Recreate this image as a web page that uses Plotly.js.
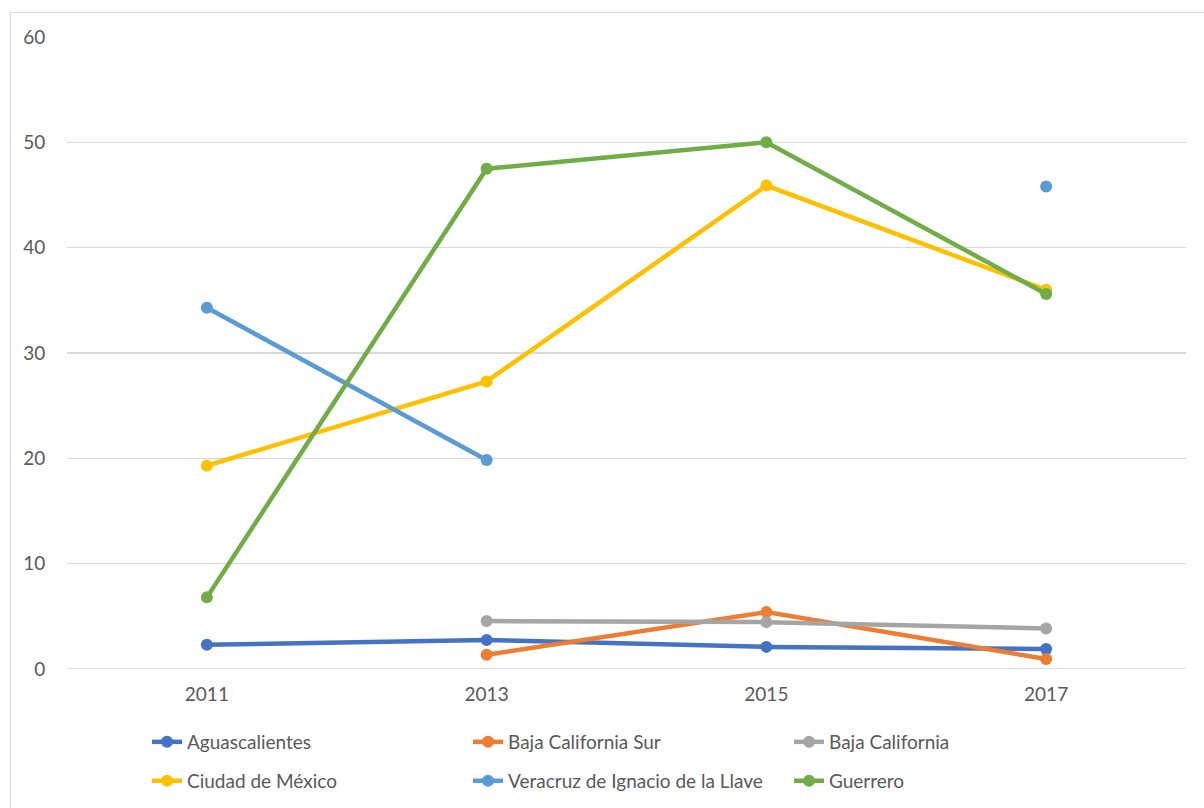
<!DOCTYPE html>
<html>
<head>
<meta charset="utf-8">
<script src="https://cdn.plot.ly/plotly-3.0.1.min.js"></script>
<style>
  html, body { margin: 0; padding: 0; background: #fff; }
  #wrap { position: relative; width: 1204px; height: 808px; overflow: hidden; }
  #chart { width: 1204px; height: 808px; }
  #frame { position: absolute; left: 10px; top: 12px; width: 1300px; height: 900px;
           border: 1.5px solid #d9d9d9; pointer-events: none; }
</style>
</head>
<body>
<div id="wrap">
  <div id="chart"></div>
  <div id="frame"></div>
</div>
<script>
const years = ['2011', '2013', '2015', '2017'];
const aguascalientes = [2.3, 2.75, 2.1, 1.9];
const bajaCaliforniaSur = [null, 1.35, 5.4, 0.95];
const bajaCalifornia = [null, 4.55, 4.45, 3.85];
const ciudadDeMexico = [19.3, 27.3, 45.9, 36.0];
const veracruz = [34.3, 19.85, null, 45.8];
const guerrero = [6.8, 47.5, 50.0, 35.6];
const yTicks = [0, 10, 20, 30, 40, 50, 60];

const seriesNames = ['Aguascalientes', 'Baja California Sur', 'Baja California',
                     'Ciudad de México', 'Veracruz de Ignacio de la Llave', 'Guerrero'];
const seriesValues = [aguascalientes, bajaCaliforniaSur, bajaCalifornia,
                      ciudadDeMexico, veracruz, guerrero];
const colors = ['#4472C4', '#ED7D31', '#A5A5A5', '#FFC000', '#5B9BD5', '#70AD47'];

const FONT = 'Lato, "Open Sans", "Liberation Sans", sans-serif';
const TXT = '#595959';
const FS = 19;

const traces = seriesValues.map((vals, i) => ({
  type: 'scatter',
  mode: 'lines+markers',
  name: seriesNames[i],
  x: years,
  y: vals,
  connectgaps: false,
  line: { color: colors[i], width: 4.5 },
  marker: { color: colors[i], size: 12 },
  legend: i < 3 ? 'legend' : 'legend2',
  cliponaxis: false
}));

const legendCommon = {
  orientation: 'h',
  xanchor: 'left',
  yanchor: 'middle',
  x: 0.0715,
  entrywidth: 276,
  entrywidthmode: 'pixels',
  font: { family: FONT, size: FS, color: TXT },
  bgcolor: 'rgba(0,0,0,0)',
  itemclick: false
};

const layout = {
  width: 1204,
  height: 808,
  margin: { l: 67, r: 18, t: 37, b: 139, autoexpand: false },
  paper_bgcolor: '#ffffff',
  plot_bgcolor: '#ffffff',
  showlegend: true,
  font: { family: FONT, size: FS, color: TXT },
  xaxis: {
    type: 'category',
    range: [-0.5, 3.5],
    showgrid: false,
    showline: false,
    zeroline: false,
    ticks: 'outside',
    ticklen: 8,
    tickcolor: 'rgba(0,0,0,0)',
    tickfont: { family: FONT, size: FS, color: TXT },
    fixedrange: true
  },
  yaxis: {
    range: [0, 60],
    tickvals: yTicks,
    ticktext: yTicks.map(String),
    showgrid: true,
    gridcolor: '#d9d9d9',
    gridwidth: 1.3,
    zeroline: false,
    showline: false,
    ticks: 'outside',
    ticklen: 17,
    tickcolor: 'rgba(0,0,0,0)',
    tickfont: { family: FONT, size: FS, color: TXT },
    fixedrange: true
  },
  shapes: [{
    type: 'line', xref: 'paper', yref: 'y', x0: 0, x1: 1, y0: 0, y1: 0,
    line: { color: '#d9d9d9', width: 1.3 }, layer: 'below'
  }],
  legend: Object.assign({}, legendCommon, { y: -0.1155 }),
  legend2: Object.assign({}, legendCommon, { y: -0.177 })
};

Plotly.newPlot('chart', traces, layout, { displayModeBar: false, staticPlot: true });
</script>
</body>
</html>
